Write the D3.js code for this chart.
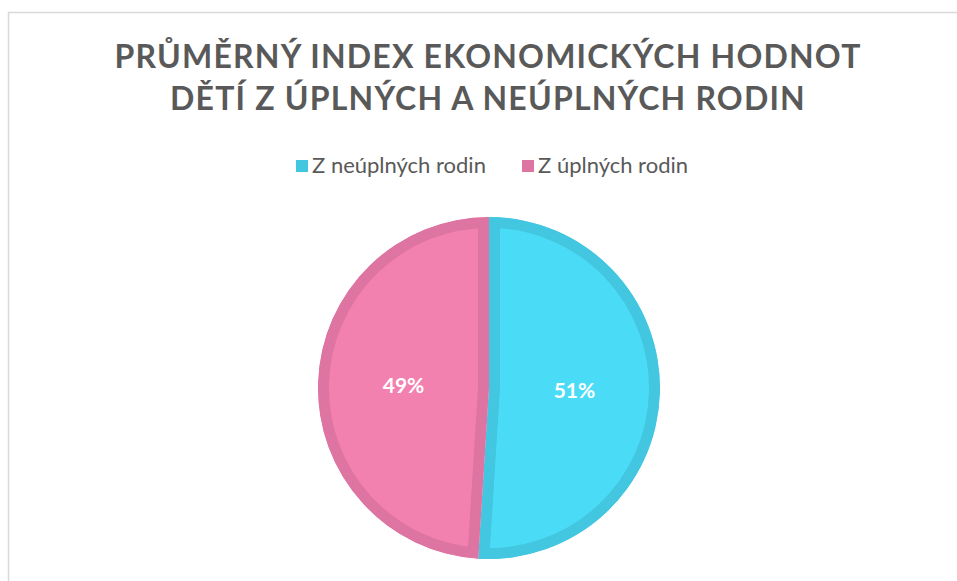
<!DOCTYPE html>
<meta charset="utf-8">
<style>
    body { margin: 0; background: #fff; }
    text { font-family: Lato, "Open Sans", sans-serif; }
</style>
<body>
<script src="https://cdn.jsdelivr.net/npm/d3@7"></script>
<script>
    // data
    const categories = ["Z neúplných rodin", "Z úplných rodin"];
    const values = [51, 49];
    const fills = ["#4adcf6", "#f381b0"];
    const borders = ["#43c6e0", "#de74a2"];
    const titleLines = ["PRŮMĚRNÝ INDEX EKONOMICKÝCH HODNOT", "DĚTÍ Z ÚPLNÝCH A NEÚPLNÝCH RODIN"];

    const width = 957, height = 581;
    const cx = 489, cy = 388, R = 171;

    let svg = d3.select("body").append("svg")
        .attr("width", width)
        .attr("height", height);

    // chart frame
    svg.append("path")
        .attr("d", `M8.5,${height} V12.5 H${width}`)
        .attr("fill", "none")
        .attr("stroke", "#d9d9d9")
        .attr("stroke-width", 1.5);

    // title
    svg.append("g").selectAll("text")
        .data(titleLines)
        .enter().append("text")
        .attr("x", 488)
        .attr("y", (d, i) => 68 + i * 42)
        .attr("text-anchor", "middle")
        .attr("fill", "#595959")
        .attr("font-size", 32)
        .attr("font-weight", 700)
        .attr("letter-spacing", 1.2)
        .text(d => d);

    // legend
    const legendX = [296, 522];
    let legend = svg.append("g").selectAll("g")
        .data(categories)
        .enter().append("g")
        .attr("transform", (d, i) => `translate(${legendX[i]},166)`);
    legend.append("rect")
        .attr("x", 0).attr("y", -6)
        .attr("width", 12).attr("height", 12)
        .attr("fill", (d, i) => borders[i]);
    legend.append("text")
        .attr("x", 16)
        .attr("y", 7)
        .attr("fill", "#595959")
        .attr("font-size", 22)
        .text(d => d);

    // pie
    let pie = d3.pie().sort(null).value(d => d);
    let arcs = pie(values);
    let arc = d3.arc().innerRadius(0).outerRadius(R);

    let g = svg.append("g").attr("transform", `translate(${cx},${cy})`);
    let defs = svg.append("defs");
    arcs.forEach((a, i) => {
        defs.append("clipPath").attr("id", "clip" + i)
            .append("path").attr("d", arc(a));
    });

    g.selectAll("path.slice")
        .data(arcs)
        .enter().append("path")
        .attr("class", "slice")
        .attr("d", arc)
        .attr("fill", (d, i) => fills[i])
        .attr("stroke", (d, i) => borders[i])
        .attr("stroke-width", 22)
        .attr("stroke-linejoin", "miter")
        .attr("clip-path", (d, i) => `url(#clip${i})`);

    g.selectAll("text.lbl")
        .data(arcs)
        .enter().append("text")
        .attr("class", "lbl")
        .attr("transform", d => `translate(${arc.centroid(d)})`)
        .attr("text-anchor", "middle")
        .attr("dy", "0.35em")
        .attr("fill", "#ffffff")
        .attr("font-size", 21)
        .attr("font-weight", 700)
        .text(d => d3.format(".0%")(d.data / d3.sum(values)));
</script>
</body>
